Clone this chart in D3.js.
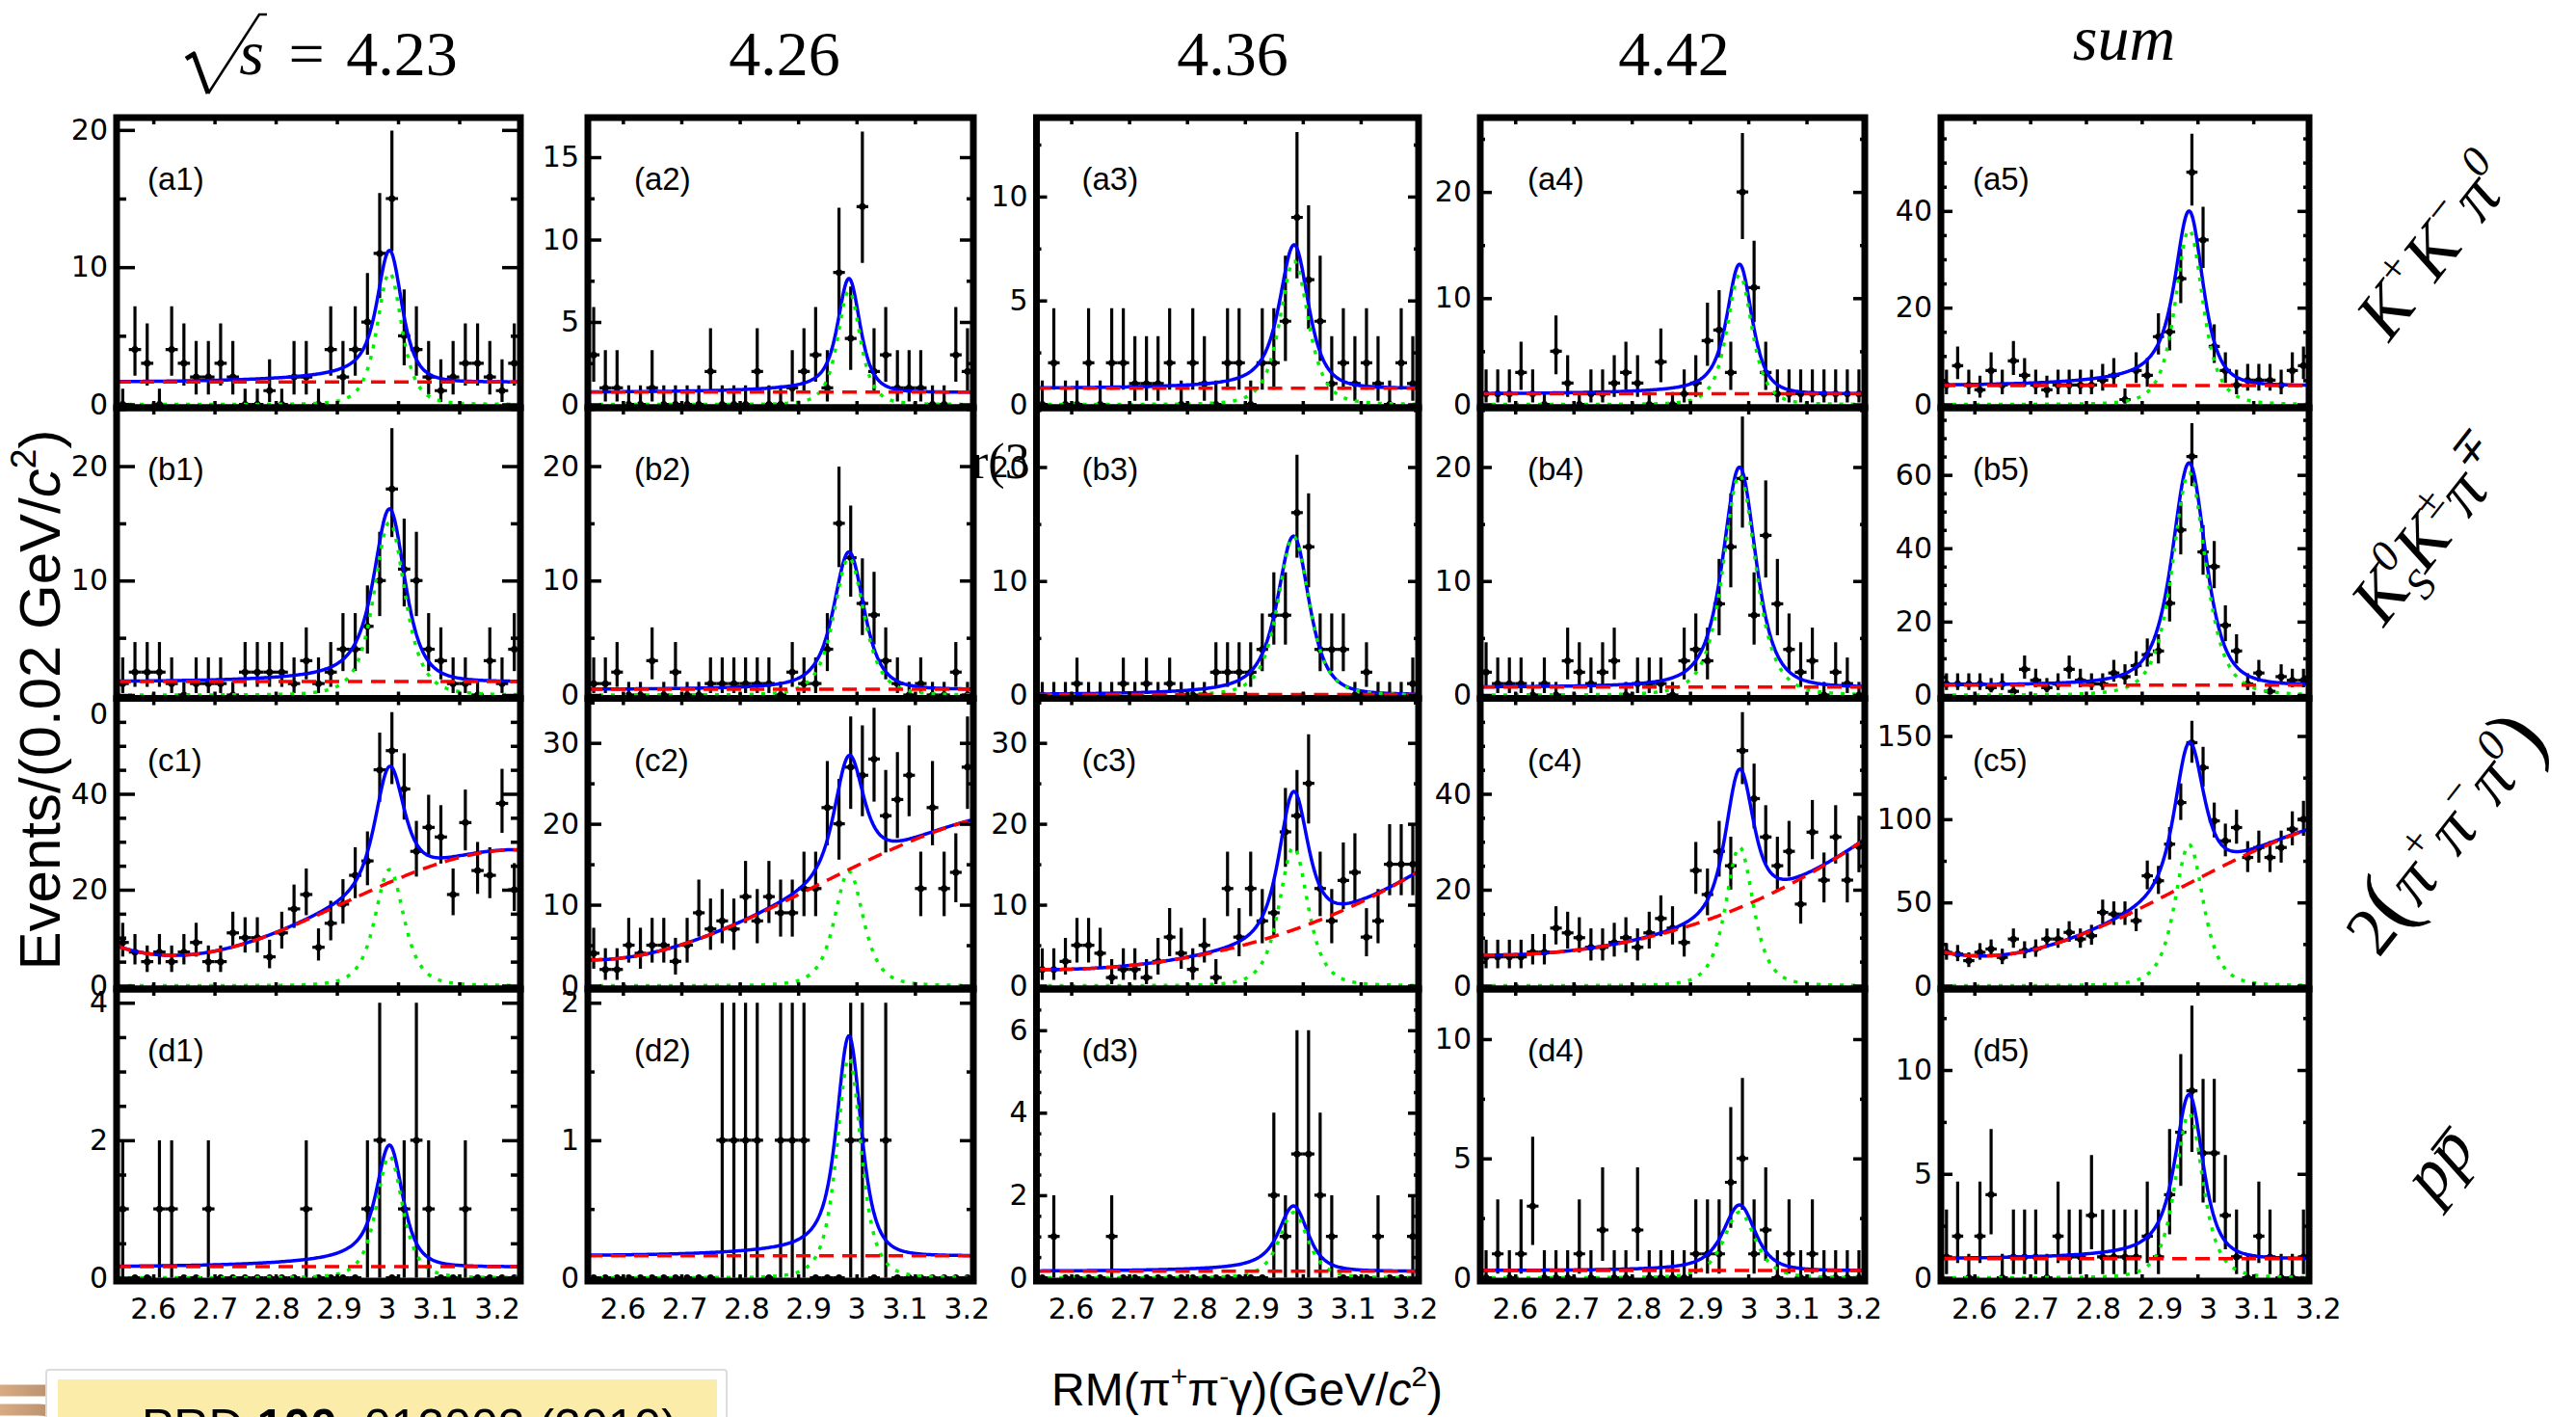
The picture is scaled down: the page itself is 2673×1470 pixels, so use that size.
<!DOCTYPE html>
<html>
<head>
<meta charset="utf-8">
<script src="https://cdn.jsdelivr.net/npm/d3@7"></script>
<style>
html, body { margin: 0; padding: 0; background: #fff; }
svg { display: block; }
</style>
</head>
<body>
<svg id="chart" width="2673" height="1470"></svg>
<script>
// bin centres of RM(pi+pi-gamma), 0.02 GeV/c2 bins
var binCenters = [2.55,2.57,2.59,2.61,2.63,2.65,2.67,2.69,2.71,2.73,2.75,2.77,2.79,2.81,2.83,2.85,2.87,
	2.89,2.91,2.93,2.95,2.97,2.99,3.01,3.03,3.05,3.07,3.09,3.11,3.13,3.15,3.17,3.19];
var binWidth = 0.02;
var xDomain = [2.54, 3.20];
var xTickValues = [2.6, 2.7, 2.8, 2.9, 3.0, 3.1, 3.2];
var xTickLabels = ["2.6", "2.7", "2.8", "2.9", "3", "3.1", "3.2"];
var energyLabels = ["4.23", "4.26", "4.36", "4.42", "sum"];

var panelNames = ["a1","a2","a3","a4","a5","b1","b2","b3","b4","b5",
	"c1","c2","c3","c4","c5","d1","d2","d3","d4","d5"];

// events per bin
var a1 = [0,4,3,0,4,3,2,2,3,2,0,0,1,0,2,2,0,4,2,4,6,11,15,5,4,2,1,2,3,3,2,1,3];
var a2 = [3,1,1,0,0,1,0,0,0,0,2,0,0,0,2,0,0,1,2,3,1,8,4,12,2,3,1,1,1,0,0,3,2];
var a3 = [0,2,0,0,2,0,2,2,1,1,1,2,0,2,1,0,2,2,0,2,2,4,9,6,4,1,2,1,2,1,0,2,1];
var a4 = [1,1,1,3,1,0,5,2,0,1,1,2,3,2,0,4,0,1,2,6,7,3,20,11,3,1,1,1,1,1,1,1,1];
var a5 = [4,8,4,3,7,4,9,6,4,3,4,4,4,4,5,6,1,7,6,14,15,26,48,34,12,7,4,5,5,5,4,7,8];
var b1 = [1,2,2,2,1,0,1,1,1,0,2,2,2,2,1,3,1,2,4,4,6,10,18,11,10,4,3,1,1,0,3,1,4];
var b2 = [1,1,2,0,0,3,0,2,0,0,1,1,1,1,1,1,0,2,1,1,4,15,12,8,7,3,1,0,1,0,0,2,0];
var b3 = [0,0,0,1,0,0,0,1,0,1,0,1,0,0,0,2,2,2,2,4,7,7,16,13,4,4,4,0,2,0,0,0,1];
var b4 = [2,1,1,1,0,1,0,3,2,1,2,3,0,1,1,1,0,3,4,3,8,13,19,7,14,8,4,2,3,0,2,1,0];
var b5 = [3,3,3,3,2,3,1,7,4,2,3,7,4,3,3,6,5,8,11,12,25,45,65,39,35,19,12,3,6,1,5,4,4];
var c1 = [9,7,5,7,5,7,9,5,5,11,10,10,6,11,16,19,8,13,17,23,26,45,49,41,28,33,31,19,34,24,23,38,20];
var c2 = [4,2,2,5,4,5,5,3,5,9,7,8,7,11,8,11,9,9,12,12,22,20,27,26,28,21,23,26,12,22,12,14,27];
var c3 = [2,2,3,5,5,4,1,2,2,1,3,6,4,2,5,1,12,6,12,8,9,19,21,25,12,8,13,14,6,8,15,15,15];
var c4 = [6,6,6,6,7,7,12,11,10,8,8,9,10,8,11,14,12,9,24,19,28,25,49,39,31,25,28,17,32,22,31,22,29];
var c5 = [20,19,15,20,22,17,28,21,22,28,28,32,28,30,44,43,43,39,66,63,85,110,146,131,99,87,95,77,83,77,83,94,100];
var d1 = [1,0,0,1,1,0,0,1,0,0,0,0,0,0,0,1,0,0,0,0,1,2,0,1,2,1,0,0,1,0,0,0,0];
var d2 = [0,0,0,0,0,0,0,0,0,0,0,1,1,1,1,0,1,1,1,0,0,0,1,1,0,1,0,0,0,0,0,0,0];
var d3v = [0,1,0,0,0,0,1,0,0,0,0,0,0,0,0,0,0,0,0,0,2,1,3,3,2,1,0,0,0,1,0,0,1];
var d4 = [0,1,0,1,3,0,0,0,1,0,2,0,0,2,0,0,0,0,1,1,1,4,5,1,2,0,1,0,1,0,0,0,0];
var d5 = [1,2,0,2,4,0,1,1,1,0,2,1,1,3,1,1,1,1,2,1,4,7,9,6,6,3,1,0,2,1,0,0,1];
var panelCounts = [a1,a2,a3,a4,a5,b1,b2,b3,b4,b5,c1,c2,c3,c4,c5,d1,d2,d3v,d4,d5];

// panels whose error bars are +-n instead of Poisson intervals
var symmetricErrorPanels = ["d1", "d2", "d3"];

// y axis ranges and tick steps
var yMax   = [20.9,17.4,13.8,27.0,59.3, 25.1,25.1,25.2,25.2,78.3, 59.9,35.5,35.5,59.9,172.6, 4.2,2.1,7.0,12.1,13.9];
var yMajor = [10,5,5,10,20, 10,10,10,10,20, 20,10,10,20,50, 2,1,2,5,5];
var yMinor = [5,2.5,2.5,5,5, 5,5,5,5,5, 5,5,5,5,25, 0.5,0.5,0.5,2.5,2.5];

// fit: signal peak (green), extra low-mass tail, polynomial background (red)
var peakMass   = [2.986,2.987,2.985,2.985,2.985, 2.986,2.987,2.984,2.985,2.985, 2.986,2.987,2.984,2.985,2.985, 2.986,2.987,2.984,2.985,2.985];
var peakHeight = [9.6,6.9,6.9,12.2,36.1, 15.1,12.0,13.9,19.3,60.6, 24.2,14.1,17.1,28.9,84.7, 1.77,1.6,1.58,2.75,7.9];
var peakWidth  = [0.037,0.035,0.045,0.039,0.045, 0.046,0.047,0.049,0.051,0.054, 0.043,0.045,0.045,0.043,0.047, 0.039,0.038,0.045,0.049,0.045];
var tailFrac   = [0.14,0.10,0.09,0.09,0.15, 0.11,0.06,0.10,0.04,0.05, 0,0,0,0,0, 0.17,0.10,0.15,0.10,0.12];
var bgKnots = [2.54, 2.76, 2.98, 3.20];
var bgAt254 = [1.63,0.74,0.78,1.0,3.9, 1.17,0.5,0.05,0.7,2.7, 8.3,3.2,2.0,6.4,20.5, 0.16,0.16,0.16,0.3,0.92];
var bgAt276 = [1.63,0.74,0.78,1.0,3.9, 1.17,0.5,0.05,0.7,2.7, 9.2,6.6,3.0,8.4,26.8, 0.16,0.16,0.16,0.3,0.92];
var bgAt298 = [1.63,0.74,0.78,1.0,3.9, 1.17,0.5,0.05,0.7,2.7, 21.2,14.1,6.8,16.0,60.6, 0.16,0.16,0.16,0.3,0.92];
var bgAt320 = [1.63,0.74,0.78,1.0,3.9, 1.17,0.5,0.05,0.7,2.7, 28.3,20.5,14.1,30.5,93.9, 0.16,0.16,0.16,0.3,0.92];

// layout
var colLeft  = [121, 610, 1075.5, 1536, 2014];
var colRight = [540, 1010, 1472, 1935, 2396];
var rowTop    = [122, 423, 724.5, 1026];
var rowBottom = [423, 724.5, 1026, 1329];
var majorLen = [19, 14, 11, 12, 12];
var minorLen = [10, 7, 5, 5, 6];
var labelOffset = [32, 48, 47, 49, 33];
var headerCenter = [417, 814, 1279, 1737, 2204];

var numFont = "'DejaVu Sans', sans-serif";
var sansFont = "'Liberation Sans', Arial, Helvetica, sans-serif";
var serifFont = "'Liberation Serif', 'Times New Roman', serif";

var svg = d3.select("#chart");
var defs = svg.append("defs");

function poissonInterval(n) {
	if (n === 0) return [0, 1.148];
	var lo = n * Math.pow(1 - 1 / (9 * n) - 1 / (3 * Math.sqrt(n)), 3);
	var m = n + 1;
	var hi = m * Math.pow(1 - 1 / (9 * m) + 1 / (3 * Math.sqrt(m)), 3);
	return [lo, hi];
}

function background(p, v) {
	var k = [bgAt254[p], bgAt276[p], bgAt298[p], bgAt320[p]];
	var s = 0;
	for (var i = 0; i < 4; i++) {
		var l = 1;
		for (var j = 0; j < 4; j++) {
			if (j !== i) l *= (v - bgKnots[j]) / (bgKnots[i] - bgKnots[j]);
		}
		s += k[i] * l;
	}
	return s;
}

function signal(p, v) {
	var u = (v - peakMass[p]) / peakWidth[p];
	return peakHeight[p] / Math.pow(1 + u * u, 2);
}

function lowTail(p, v) {
	var d = peakMass[p] - v;
	if (d <= 0) return 0;
	return tailFrac[p] * peakHeight[p] * Math.exp(-d / 0.12) * (1 - Math.exp(-(d / 0.04) * (d / 0.04)));
}

var curveX = d3.range(xDomain[0], xDomain[1] + 0.0001, 0.002);

panelNames.forEach(function (name, p) {
	var row = Math.floor(p / 5), col = p % 5;
	var counts = panelCounts[p];
	var x = d3.scaleLinear().domain(xDomain).range([colLeft[col], colRight[col]]);
	var y = d3.scaleLinear().domain([0, yMax[p]]).range([rowBottom[row] - 3.5, rowTop[row]]);
	var g = svg.append("g").attr("class", "panel " + name);

	defs.append("clipPath").attr("id", "clip-" + name)
		.append("rect")
		.attr("x", colLeft[col]).attr("y", rowTop[row])
		.attr("width", colRight[col] - colLeft[col])
		.attr("height", rowBottom[row] - rowTop[row] - 1.5);

	var plot = g.append("g").attr("clip-path", "url(#clip-" + name + ")");

	// data points
	var symmetric = symmetricErrorPanels.indexOf(name) >= 0;
	var pts = plot.append("g").attr("stroke", "#000").attr("stroke-width", 3.2);
	counts.forEach(function (n, i) {
		var c = binCenters[i];
		var iv = symmetric ? [0, 2 * n] : poissonInterval(n);
		pts.append("line")
			.attr("x1", x(c - binWidth / 2)).attr("x2", x(c + binWidth / 2))
			.attr("y1", y(n)).attr("y2", y(n));
		pts.append("line")
			.attr("x1", x(c)).attr("x2", x(c))
			.attr("y1", y(iv[0])).attr("y2", y(iv[1]));
		pts.append("circle")
			.attr("cx", x(c)).attr("cy", y(n)).attr("r", 3.5)
			.attr("fill", "#000").attr("stroke", "none");
	});

	var line = d3.line().x(function (d) { return x(d[0]); }).y(function (d) { return y(d[1]); });

	var total = curveX.map(function (v) { return [v, background(p, v) + signal(p, v) + lowTail(p, v)]; });
	var sig = curveX.map(function (v) { return [v, signal(p, v)]; });
	var bkg = curveX.map(function (v) { return [v, background(p, v)]; });

	plot.append("path").attr("d", line(total))
		.attr("fill", "none").attr("stroke", "#0000ff").attr("stroke-width", 3.5)
		.attr("stroke-linejoin", "round");
	plot.append("path").attr("d", line(sig))
		.attr("fill", "none").attr("stroke", "#00f000").attr("stroke-width", 3.5)
		.attr("stroke-dasharray", "4,8");
	plot.append("path").attr("d", line(bkg))
		.attr("fill", "none").attr("stroke", "#ff0000").attr("stroke-width", 3.5)
		.attr("stroke-dasharray", "15,9");

	// ticks
	var majors = d3.range(0, yMax[p] + 1e-9, yMajor[p]);
	var minors = d3.range(0, yMax[p] + 1e-9, yMinor[p]).filter(function (v) {
		return Math.abs(v / yMajor[p] - Math.round(v / yMajor[p])) > 1e-6;
	});

	var axes = g.append("g").attr("class", "axes");

	var leftMajor = axes.append("g").attr("transform", "translate(" + colLeft[col] + ",0)")
		.call(d3.axisLeft(y).tickValues(majors).tickSize(-majorLen[col]).tickPadding(9)
			.tickFormat(function (d) { return String(d); }));
	axes.append("g").attr("transform", "translate(" + colLeft[col] + ",0)")
		.call(d3.axisLeft(y).tickValues(minors).tickSize(-minorLen[col]).tickFormat(""));
	axes.append("g").attr("transform", "translate(" + colRight[col] + ",0)")
		.call(d3.axisRight(y).tickValues(majors).tickSize(-majorLen[col]).tickFormat(""));
	axes.append("g").attr("transform", "translate(" + colRight[col] + ",0)")
		.call(d3.axisRight(y).tickValues(minors).tickSize(-minorLen[col]).tickFormat(""));
	axes.append("g").attr("transform", "translate(0," + rowTop[row] + ")")
		.call(d3.axisTop(x).tickValues(xTickValues).tickSize(-7).tickFormat(""));
	axes.append("g").attr("transform", "translate(0," + rowBottom[row] + ")")
		.call(d3.axisBottom(x).tickValues(xTickValues).tickSize(-7).tickFormat(""));

	axes.selectAll(".domain").remove();
	axes.selectAll(".tick line").attr("stroke", "#000").attr("stroke-width", 3.5);
	leftMajor.selectAll(".tick text")
		.attr("fill", "#000")
		.style("font-family", numFont)
		.style("font-size", "30px");
	if (name === "b1") {
		leftMajor.selectAll(".tick text").filter(function (d) { return d === 0; }).attr("y", 20);
	}

	// frame
	g.append("rect")
		.attr("x", colLeft[col]).attr("y", rowTop[row])
		.attr("width", colRight[col] - colLeft[col])
		.attr("height", rowBottom[row] - rowTop[row])
		.attr("fill", "none").attr("stroke", "#000").attr("stroke-width", 7);

	g.append("text")
		.attr("x", colLeft[col] + labelOffset[col])
		.attr("y", rowTop[row] + 75)
		.style("font-family", sansFont).style("font-size", "33px")
		.text("(" + name + ")");

	// x tick labels under the bottom row, laid out as one spaced line
	if (row === 3) {
		g.append("text")
			.attr("x", x(xTickValues[0]) - 23.8)
			.attr("y", rowBottom[row] + 39)
			.style("font-family", numFont).style("font-size", "30px")
			.style("word-spacing", "7px")
			.text(xTickLabels.join(" "));
	}
});

// rich text with super/subscripts
function richText(parent, parts, size, anchor) {
	var t = parent.append("text").attr("text-anchor", anchor || "middle").style("font-size", size + "px");
	var shift = 0;
	parts.forEach(function (pt) {
		var kind = pt.k || "n";
		var target = kind === "sup" ? -0.42 * size : (kind === "sub" ? 0.24 * size : 0);
		var ts = t.append("tspan").text(pt.t).attr("dy", target - shift);
		shift = target;
		if (kind !== "n") ts.style("font-size", (0.62 * size) + "px");
		if (pt.size) ts.style("font-size", pt.size + "px");
		if (pt.dx) ts.attr("dx", pt.dx);
		if (pt.style) ts.style("font-style", pt.style);
	});
	return t;
}

// column headers
var head = svg.append("g").style("font-family", serifFont).style("font-size", "66px");
energyLabels.forEach(function (lab, i) {
	var t = head.append("text").attr("x", headerCenter[i]).attr("text-anchor", "middle").text(lab);
	if (lab === "sum") t.attr("y", 62).style("font-style", "italic");
	else t.attr("y", 78);
});
head.append("text").attr("x", 318).attr("y", 78).attr("text-anchor", "middle").text("=");
head.append("text").attr("x", 261).attr("y", 77).attr("text-anchor", "middle")
	.style("font-style", "italic").text("s");
head.append("path").attr("d", "M193,61 L201,56 L216,97")
	.attr("fill", "none").attr("stroke", "#000").attr("stroke-width", 5).attr("stroke-linejoin", "round");
head.append("path").attr("d", "M216,97 L269,15 L277,15")
	.attr("fill", "none").attr("stroke", "#000").attr("stroke-width", 2.5);

// channel labels on the right
var chan = svg.append("g").style("font-family", serifFont).style("font-style", "italic");
var chanSize = 72;

var g1 = chan.append("g").attr("transform", "translate(2528,258) rotate(-52)");
richText(g1, [{t: "K"}, {t: "+", k: "sup"}, {t: "K"}, {t: "\u2212", k: "sup"}, {t: "\u03c0"}, {t: "0", k: "sup"}], chanSize)
	.attr("y", 0.3 * chanSize);

var g2 = chan.append("g").attr("transform", "translate(2523,553) rotate(-52)");
richText(g2, [{t: "K"}, {t: "0", k: "sup"}, {t: "S", k: "sub", dx: -0.31 * chanSize}, {t: "K"},
	{t: "\u00b1", k: "sup"}, {t: "\u03c0"}, {t: "\u2213", k: "sup"}], chanSize)
	.attr("y", 0.3 * chanSize);

var g3 = chan.append("g").attr("transform", "translate(2540,868) rotate(-52)");
richText(g3, [{t: "2", style: "normal"}, {t: "(", size: 92, style: "normal"}, {t: "\u03c0"}, {t: "+", k: "sup"},
	{t: "\u03c0"}, {t: "\u2212", k: "sup"}, {t: "\u03c0"}, {t: "0", k: "sup"}, {t: ")", size: 92, style: "normal"}], chanSize)
	.attr("y", 0.3 * chanSize);

var g4 = chan.append("g").attr("transform", "translate(2540,1214) rotate(-52)");
g4.append("text").attr("text-anchor", "middle").attr("y", 0.15 * chanSize)
	.style("font-size", chanSize + "px").text("pp");
g4.append("line").attr("x1", 6).attr("x2", 38).attr("y1", -26).attr("y2", -26)
	.attr("stroke", "#000").attr("stroke-width", 3);

// axis titles
var yTitle = svg.append("g").attr("transform", "translate(62,726) rotate(-90)")
	.style("font-family", sansFont);
richText(yTitle, [{t: "Events/(0.02 GeV/"}, {t: "c", style: "italic"}, {t: "2", k: "sup"}, {t: ")"}], 60);

var xTitle = svg.append("g").style("font-family", sansFont);
richText(xTitle, [{t: "RM(\u03c0"}, {t: "+", k: "sup"}, {t: "\u03c0"}, {t: "-", k: "sup"},
	{t: "\u03b3)(GeV/"}, {t: "c", style: "italic"}, {t: "2", k: "sup"}, {t: ")"}], 48, "start")
	.attr("x", 1091).attr("y", 1458);

// stray fragment visible in the figure
svg.append("text").attr("x", 1008).attr("y", 496)
	.style("font-family", serifFont).style("font-size", "52px").text("r(3");

// reference box at the bottom left
var grad = defs.append("linearGradient").attr("id", "brown")
	.attr("gradientUnits", "userSpaceOnUse").attr("x1", 0).attr("x2", 130).attr("y1", 0).attr("y2", 0);
grad.append("stop").attr("offset", "0%").attr("stop-color", "#d8ab82");
grad.append("stop").attr("offset", "100%").attr("stop-color", "#8c6a52");
svg.append("path").attr("d", "M0,1442.5 H86 Q120,1442.5 120,1480")
	.attr("fill", "none").attr("stroke", "url(#brown)").attr("stroke-width", 12);
svg.append("path").attr("d", "M0,1462.5 H40 Q66,1462.5 66,1490")
	.attr("fill", "none").attr("stroke", "url(#brown)").attr("stroke-width", 12);

svg.append("rect").attr("x", 48).attr("y", 1421).attr("width", 706).attr("height", 80)
	.attr("fill", "#fff").attr("stroke", "#dcdcdc").attr("stroke-width", 2).attr("rx", 3);
svg.append("rect").attr("x", 60).attr("y", 1431).attr("width", 684).attr("height", 70)
	.attr("fill", "#fcecaa");
var ref = svg.append("text").attr("x", 147).attr("y", 1497)
	.style("font-family", sansFont).style("font-size", "50px");
ref.append("tspan").text("PRD ");
ref.append("tspan").style("font-weight", "bold").text("100");
ref.append("tspan").text(", 012003 (2019)");
</script>
</body>
</html>
